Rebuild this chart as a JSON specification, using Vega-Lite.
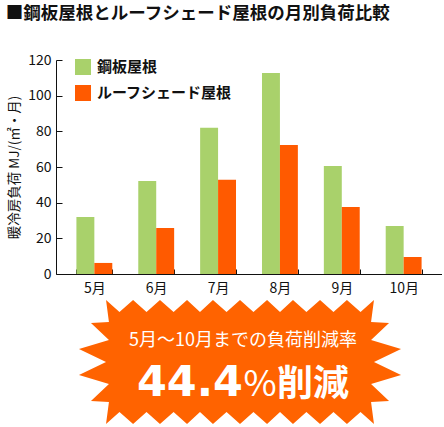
{
  "$schema": "https://vega.github.io/schema/vega-lite/v6.json",
  "padding": {"left": 5, "top": 4, "right": 0, "bottom": 0},
  "bounds": "flush",
  "spacing": 24,
  "title": {
    "text": "■鋼板屋根とルーフシェード屋根の月別負荷比較",
    "anchor": "start",
    "frame": "bounds",
    "fontSize": 17.5,
    "fontWeight": "bold",
    "font": "Noto Sans CJK JP",
    "color": "#111111",
    "offset": 31,
    "dx": -2
  },
  "datasets": {
    "load": [
      {"month": "5月", "roof": "鋼板屋根", "value": 32},
      {"month": "5月", "roof": "ルーフシェード屋根", "value": 6.2},
      {"month": "6月", "roof": "鋼板屋根", "value": 52.2},
      {"month": "6月", "roof": "ルーフシェード屋根", "value": 25.8},
      {"month": "7月", "roof": "鋼板屋根", "value": 82},
      {"month": "7月", "roof": "ルーフシェード屋根", "value": 52.9},
      {"month": "8月", "roof": "鋼板屋根", "value": 112.7},
      {"month": "8月", "roof": "ルーフシェード屋根", "value": 72.3},
      {"month": "9月", "roof": "鋼板屋根", "value": 60.6},
      {"month": "9月", "roof": "ルーフシェード屋根", "value": 37.6},
      {"month": "10月", "roof": "鋼板屋根", "value": 26.9},
      {"month": "10月", "roof": "ルーフシェード屋根", "value": 9.5}
    ],
    "badge": [
      {"line1": "5月〜10月までの負荷削減率", "pct": "44.4", "sign": "%", "word": "削減"}
    ]
  },
  "vconcat": [
    {
      "width": 386,
      "height": 214,
      "data": {"name": "load"},
      "mark": {"type": "bar"},
      "encoding": {
        "x": {
          "field": "month",
          "type": "nominal",
          "sort": null,
          "scale": {"paddingInner": 0.42, "paddingOuter": 0.33},
          "axis": {
            "title": null,
            "labelAngle": 0,
            "tickBand": "extent",
            "tickSize": -5,
            "labelPadding": 12
          }
        },
        "xOffset": {
          "field": "roof",
          "type": "nominal",
          "sort": ["鋼板屋根", "ルーフシェード屋根"],
          "scale": {"paddingInner": 0, "paddingOuter": 0}
        },
        "y": {
          "field": "value",
          "type": "quantitative",
          "scale": {"domain": [0, 120]},
          "axis": {
            "title": "暖冷房負荷 MJ/(㎡・月)",
            "values": [0, 20, 40, 60, 80, 100, 120],
            "grid": false,
            "tickSize": -6,
            "labelPadding": 11,
            "titlePadding": 6
          }
        },
        "color": {
          "field": "roof",
          "type": "nominal",
          "sort": ["鋼板屋根", "ルーフシェード屋根"],
          "scale": {"domain": ["鋼板屋根", "ルーフシェード屋根"], "range": ["#a9d16b", "#ff5a00"]},
          "legend": {
            "title": null,
            "orient": "none",
            "legendX": 19,
            "legendY": -1,
            "symbolType": "square",
            "symbolSize": 256,
            "symbolOpacity": 1,
            "symbolStrokeWidth": 0,
            "labelFontSize": 15,
            "labelFontWeight": "bold",
            "labelColor": "#111111",
            "labelOffset": 6,
            "rowPadding": 10
          }
        }
      }
    },
    {
      "width": 368,
      "height": 128,
      "data": {"name": "badge"},
      "layer": [
        {
          "mark": {
            "type": "point",
            "shape": "M-0.827,-0.383 L-0.744,-0.309 L-0.660,-0.383 L-0.577,-0.309 L-0.494,-0.383 L-0.410,-0.309 L-0.327,-0.383 L-0.247,-0.309 L-0.167,-0.383 L-0.083,-0.309 L0,-0.383 L0.083,-0.309 L0.167,-0.383 L0.247,-0.309 L0.327,-0.383 L0.410,-0.309 L0.494,-0.383 L0.577,-0.309 L0.660,-0.383 L0.744,-0.309 L0.827,-0.383 L0.809,-0.247 L0.920,-0.241 L0.809,-0.136 L0.994,-0.080 L0.827,0 L0.994,0.080 L0.809,0.136 L0.920,0.241 L0.809,0.247 L0.827,0.383 L0.744,0.309 L0.660,0.383 L0.577,0.309 L0.494,0.383 L0.410,0.309 L0.327,0.383 L0.247,0.309 L0.167,0.383 L0.083,0.309 L0,0.383 L-0.083,0.309 L-0.167,0.383 L-0.247,0.309 L-0.327,0.383 L-0.410,0.309 L-0.494,0.383 L-0.577,0.309 L-0.660,0.383 L-0.744,0.309 L-0.827,0.383 L-0.809,0.247 L-0.920,0.241 L-0.809,0.136 L-0.994,0.080 L-0.827,0 L-0.994,-0.080 L-0.809,-0.136 L-0.920,-0.241 L-0.809,-0.247 Z",
            "size": 104976,
            "filled": true,
            "color": "#ff6300",
            "opacity": 1,
            "strokeWidth": 0
          },
          "encoding": {}
        },
        {
          "mark": {"type": "text", "align": "center", "baseline": "alphabetic", "dx": 3, "dy": -16, "fontSize": 18, "color": "white", "font": "Noto Sans CJK JP"},
          "encoding": {"text": {"field": "line1"}}
        },
        {
          "mark": {"type": "text", "align": "right", "baseline": "alphabetic", "dx": 3, "dy": 34, "fontSize": 43, "fontWeight": "bold", "color": "white", "font": "DejaVu Sans"},
          "encoding": {"text": {"field": "pct"}}
        },
        {
          "mark": {"type": "text", "align": "center", "baseline": "alphabetic", "dx": 20, "dy": 34, "fontSize": 36, "color": "white", "font": "Noto Sans CJK JP"},
          "encoding": {"text": {"field": "sign"}}
        },
        {
          "mark": {"type": "text", "align": "center", "baseline": "alphabetic", "dx": 73, "dy": 34, "fontSize": 36, "fontWeight": "bold", "color": "white", "font": "Noto Sans CJK JP"},
          "encoding": {"text": {"field": "word"}}
        }
      ]
    }
  ],
  "config": {
    "font": "Noto Sans CJK JP",
    "view": {"stroke": null},
    "axis": {
      "labelFontSize": 14,
      "labelColor": "#111111",
      "titleFontSize": 13.5,
      "titleFontWeight": "normal",
      "titleColor": "#111111",
      "domainColor": "#111111",
      "tickColor": "#111111"
    }
  }
}
